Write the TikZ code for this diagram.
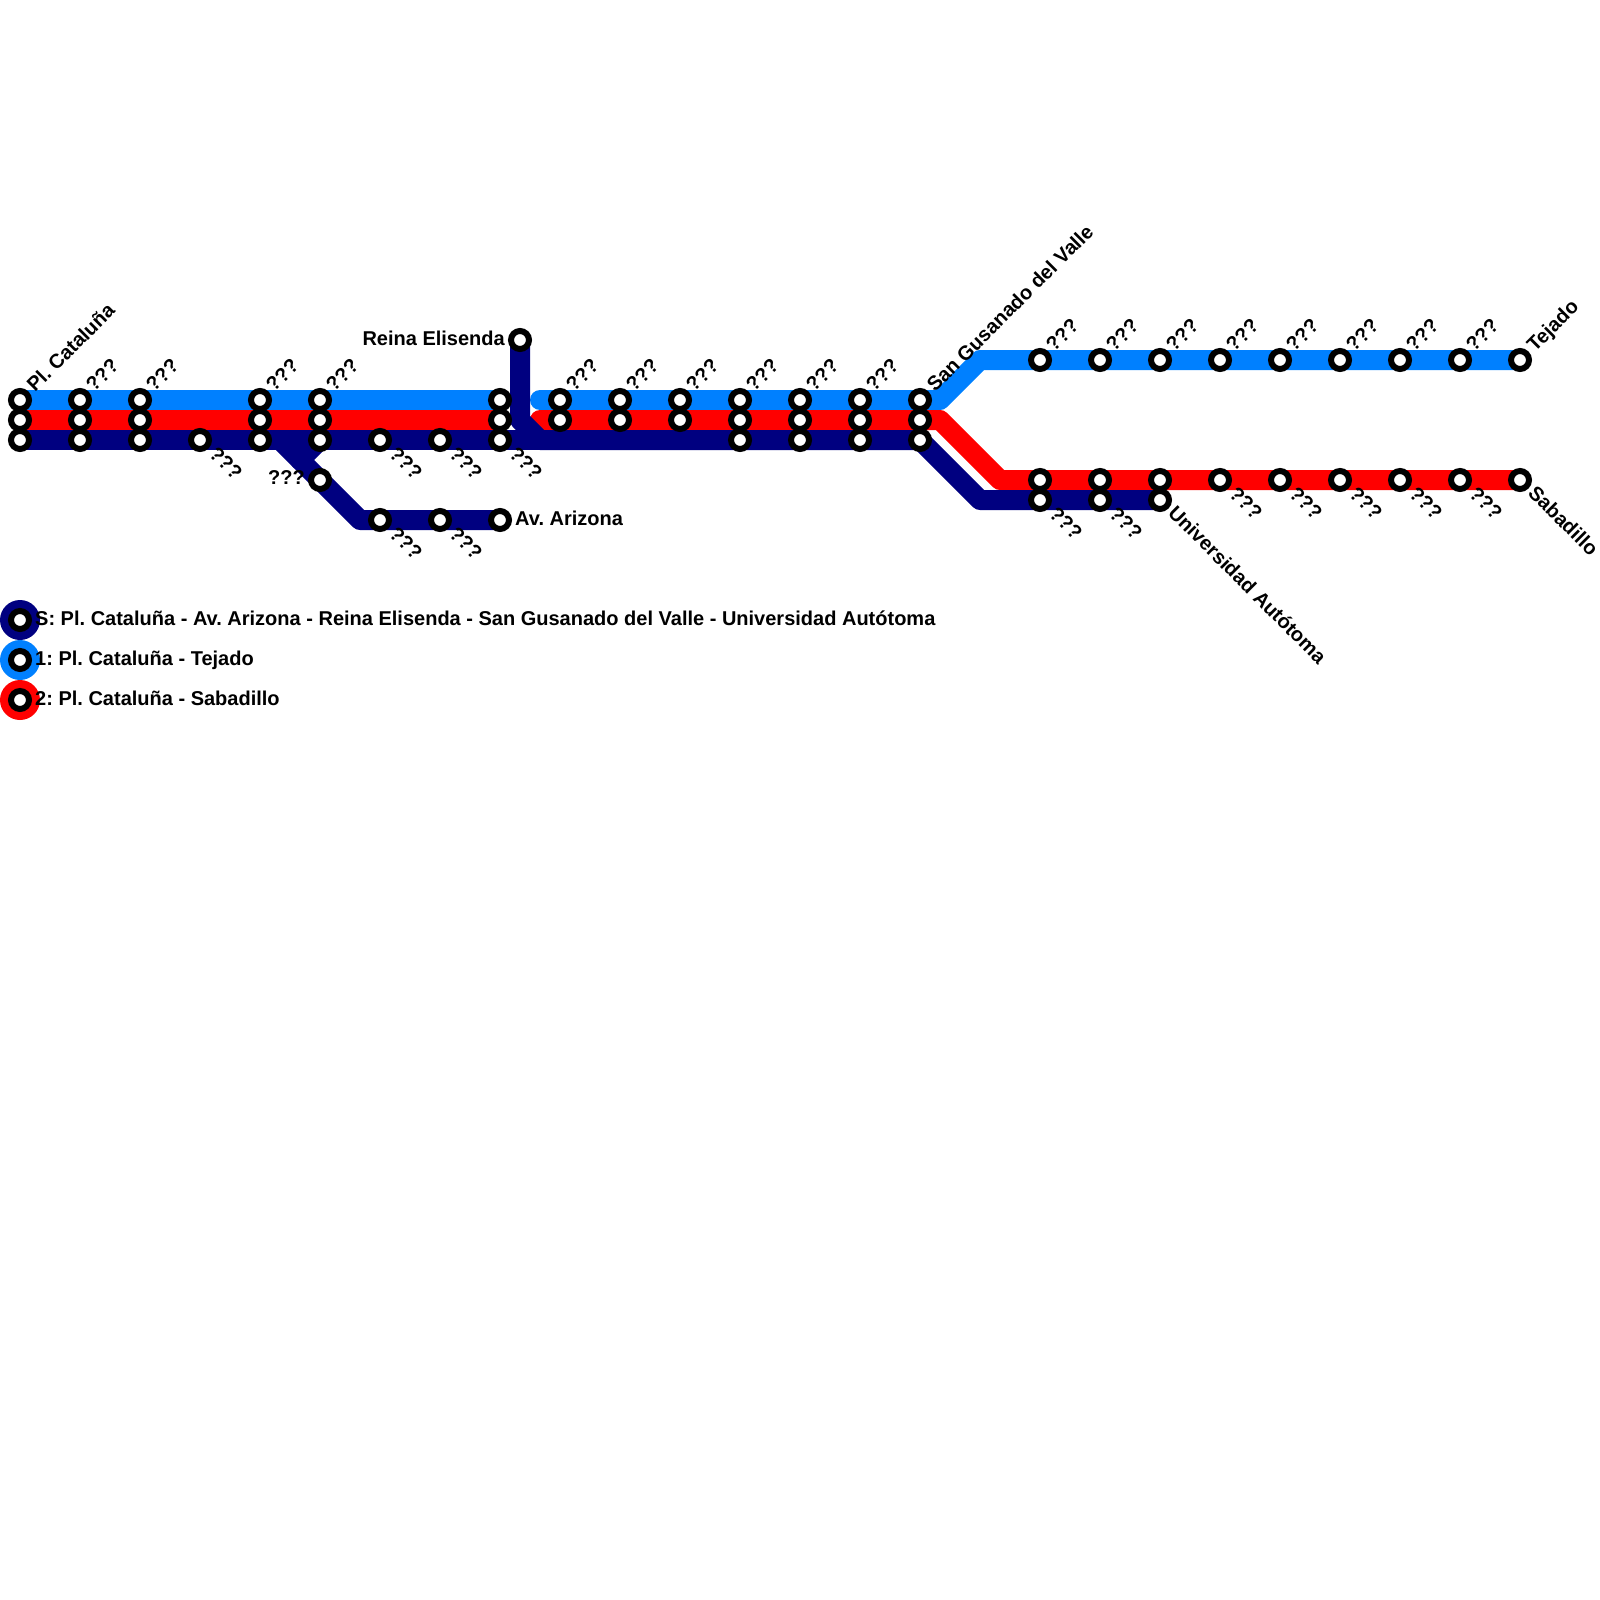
\documentclass[tikz,border=0pt]{standalone}
\usepackage{fontspec}
\setmainfont{Liberation Sans}
\definecolor{lineS}{HTML}{000080}
\definecolor{lineA}{HTML}{0080FF}
\definecolor{lineB}{HTML}{FF0000}
\tikzset{
    metro/.style={line width=20pt,line cap=round,line join=round},
    stn/.style={circle,draw=black,fill=white,line width=6pt,minimum size=18pt,inner sep=0pt},
    stnname/.style={font=\frenchspacing\bfseries\fontsize{20}{24}\selectfont,inner sep=0pt},
    nameup/.style={stnname,rotate=45,anchor=base west},
    namedown/.style={stnname,rotate=-45,anchor=base west},
    keydisc/.style={circle,minimum size=40pt,inner sep=0pt}
}
\begin{document}
\begin{tikzpicture}[x=1pt,y=-1pt]
            \useasboundingbox (0,0) rectangle (1600,1600);
            \coordinate (a0) at (20,400);
            \coordinate (a1) at (500,400);
            \coordinate (a2) at (540,400);
            \coordinate (a3) at (940,400);
            \coordinate (a4) at (980,360);
            \coordinate (a5) at (1520,360);
            \coordinate (b0) at (20,420);
            \coordinate (b1) at (500,420);
            \coordinate (b2) at (540,420);
            \coordinate (b3) at (940,420);
            \coordinate (b4) at (1000,480);
            \coordinate (b5) at (1520,480);
            \coordinate (s0) at (20,440);
            \coordinate (s1) at (540,440);
            \coordinate (s2) at (520,340);
            \coordinate (s3) at (520,420);
            \coordinate (s4) at (540,440);
            \coordinate (s5) at (920,440);
            \coordinate (s6) at (980,500);
            \coordinate (s7) at (1160,500);
            \coordinate (s8) at (280,440);
            \coordinate (s9) at (360,520);
            \coordinate (s10) at (500,520);
            \coordinate (s11) at (320,440);
            \coordinate (s12) at (300,460);
            % lines
            \draw[metro,lineA] (a0) -- (a1);
            \draw[metro,lineA] (a2) -- (a3) -- (a4) -- (a5);
            \draw[metro,lineB] (b0) -- (b1);
            \draw[metro,lineB] (b2) -- (b3) -- (b4) -- (b5);
            \draw[metro,lineS] (s0) -- (s1);
            \draw[metro,lineS] (s2) -- (s3) -- (s4) -- (s5) -- (s6) -- (s7);
            \draw[metro,lineS] (s8) -- (s9) -- (s10);
            \draw[metro,lineS] (s11) -- (s12);
            % stations
            \foreach \x in {20,80,140,260,320,500,740,800,860,920}
                \foreach \y in {400,420,440}
                    \node[stn] (st\x-\y) at (\x,\y) {};
            \foreach \x in {560,620,680}
                \foreach \y in {400,420}
                    \node[stn] (st\x-\y) at (\x,\y) {};
            \foreach \x in {200,380,440}
                \node[stn] (st\x-440) at (\x,440) {};
            \foreach \x in {380,440,500}
                \node[stn] (st\x-520) at (\x,520) {};
            \node[stn] (st320-480) at (320,480) {};
            \node[stn] (st520-340) at (520,340) {};
            \foreach \x in {1040,1100,1160,1220,1280,1340,1400,1460,1520}
                \foreach \y in {360,480}
                    \node[stn] (st\x-\y) at (\x,\y) {};
            \foreach \x in {1040,1100,1160}
                \node[stn] (st\x-500) at (\x,500) {};
            % names
            \foreach \x in {80,140,260,320,560,620,680,740,800,860}
                \node[nameup] (up\x) at ([shift={(14,-7)}]st\x-400.center) {???};
            \foreach \x in {1040,1100,1160,1220,1280,1340,1400,1460}
                \node[nameup] (up\x) at ([shift={(14,-7)}]st\x-360.center) {???};
            \foreach \x in {200,380,440,500}
                \node[namedown] (down\x) at ([shift={(8,15)}]st\x-440.center) {???};
            \foreach \x in {380,440}
                \node[namedown] (low\x) at ([shift={(8,15)}]st\x-520.center) {???};
            \foreach \x in {1040,1100}
                \node[namedown] (down\x) at ([shift={(8,15)}]st\x-500.center) {???};
            \foreach \x in {1220,1280,1340,1400,1460}
                \node[namedown] (down\x) at ([shift={(8,15)}]st\x-480.center) {???};
            \node[nameup] (catalunya) at ([shift={(15,-7)}]st20-400.center) {Pl. Cataluña};
            \node[nameup] (gusanado) at ([shift={(15,-7)}]st920-400.center) {San Gusanado del Valle};
            \node[nameup] (tejado) at ([shift={(15,-7)}]st1520-360.center) {Tejado};
            \node[namedown] (sabadillo) at ([shift={(7,14)}]st1520-480.center) {Sabadillo};
            \node[namedown] (autotoma) at ([shift={(7,14)}]st1160-500.center) {Universidad Autótoma};
            \node[stnname,anchor=east] (elisenda) at (505,338) {Reina Elisenda};
            \node[stnname,anchor=west] (arizona) at (515,518) {Av. Arizona};
            \node[stnname,anchor=east] (branch) at (305,478) {???};
            % legend
            \node[keydisc,fill=lineS] (keyS) at (20,620) {};
            \node[keydisc,fill=lineA] (keyA) at (20,660) {};
            \node[keydisc,fill=lineB] (keyB) at (20,700) {};
            \node[stn] (stnS) at (keyS.center) {};
            \node[stn] (stnA) at (keyA.center) {};
            \node[stn] (stnB) at (keyB.center) {};
            \node[stnname,anchor=base west] (textS) at (35,625) {S: Pl. Cataluña - Av. Arizona - Reina Elisenda - San Gusanado del Valle - Universidad Autótoma};
            \node[stnname,anchor=base west] (textA) at (35,665) {1: Pl. Cataluña - Tejado};
            \node[stnname,anchor=base west] (textB) at (35,705) {2: Pl. Cataluña - Sabadillo};
        \end{tikzpicture}
\end{document}
